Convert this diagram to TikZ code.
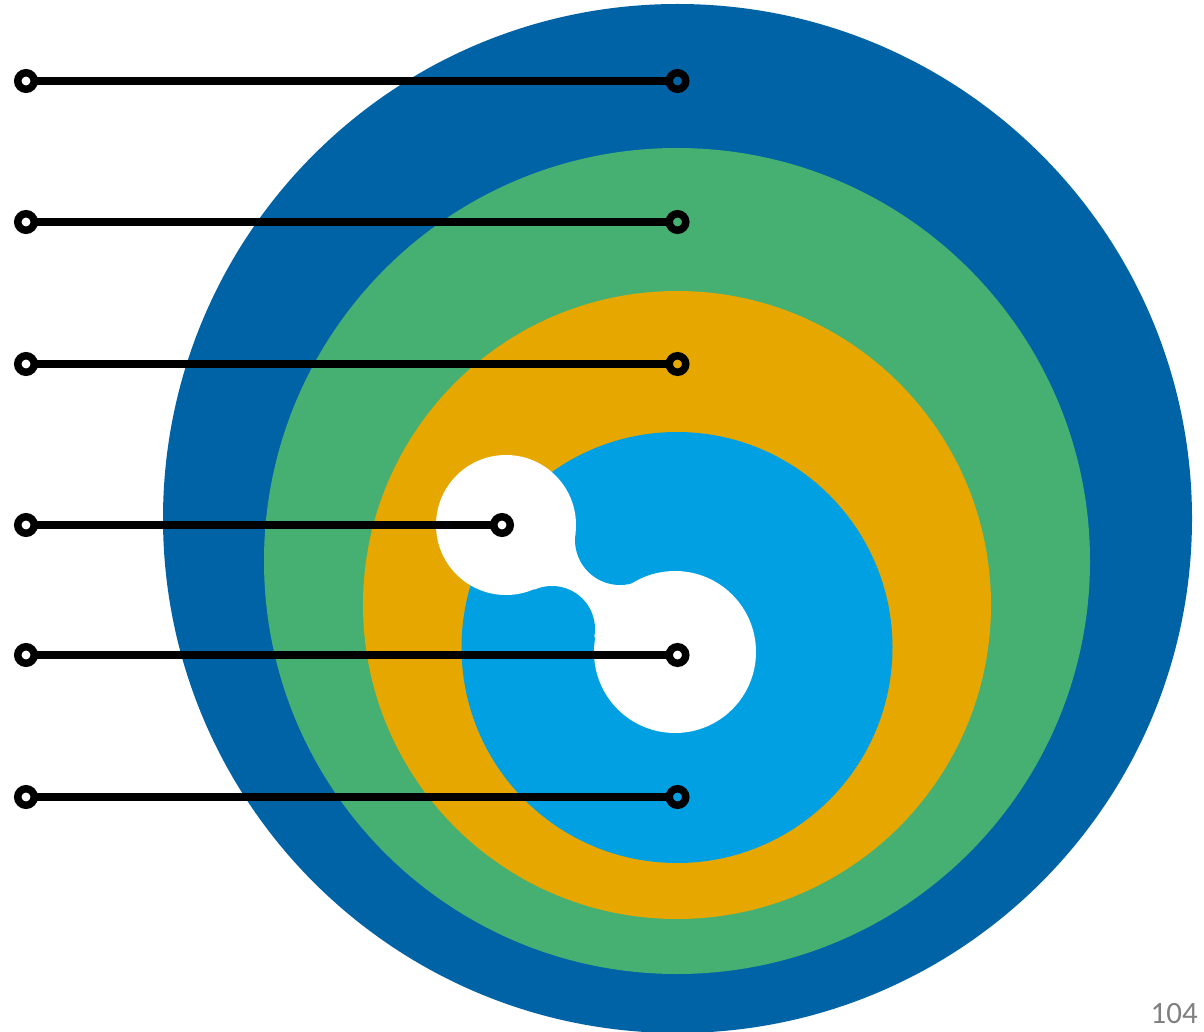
\documentclass[tikz,border=0pt]{standalone}
\usepackage{fontspec}
\newfontfamily\pagefont{Carlito}
\usepackage{xcolor}
\usepackage{tikz}
\usetikzlibrary{positioning, calc}

\definecolor{ringblue}{RGB}{0,99,166}
\definecolor{ringgreen}{RGB}{70,176,114}
\definecolor{ringgold}{RGB}{230,167,0}
\definecolor{ringcyan}{RGB}{0,160,226}
\definecolor{pagegray}{RGB}{128,128,128}

\begin{document}
\begin{tikzpicture}[x=1pt, y=-1pt,
  pin/.style={circle, draw=black, line width=7.5pt, minimum size=16.5pt, inner sep=0pt, outer sep=0pt},
  lead/.style={line width=8.5pt, black}]
\useasboundingbox (0,0) rectangle (1204,1032);
% nested discs, all centred on x = 677
\fill[ringblue] (677.5,518.5) circle[radius=514.5pt];
\fill[ringgreen] (677,561) circle[radius=413pt];
\fill[ringgold] (677,605) circle[radius=314pt];
\fill[ringcyan] (677,647.5) circle[radius=215.5pt];
% white dumbbell: neck, concave fillets, two heads
\fill[white] (506,525) -- (620,540) -- (675,652) -- (552,629) -- cycle;
\fill[ringcyan] (620,540) circle[radius=45pt];
\fill[ringcyan] (552,629) circle[radius=43pt];
\fill[white] (506,525) circle[radius=70pt];
\fill[white] (675,652) circle[radius=81pt];
% leader lines with ring pins at both ends
\foreach \i/\y/\xe in {1/81/677.5, 2/222/677.5, 3/364/677.5, 4/525/502, 5/655/677.5, 6/797/677.5} {
  \node[pin] (a\i) at (26,\y) {};
  \node[pin] (b\i) at (\xe,\y) {};
  \draw[lead] (a\i) -- (b\i);
}
% page number
\node[anchor=base east, inner sep=0pt, text=pagegray, font=\pagefont\fontsize{31}{33}\selectfont] (pageno) at (1198,1023) {104};
\end{tikzpicture}
\end{document}
